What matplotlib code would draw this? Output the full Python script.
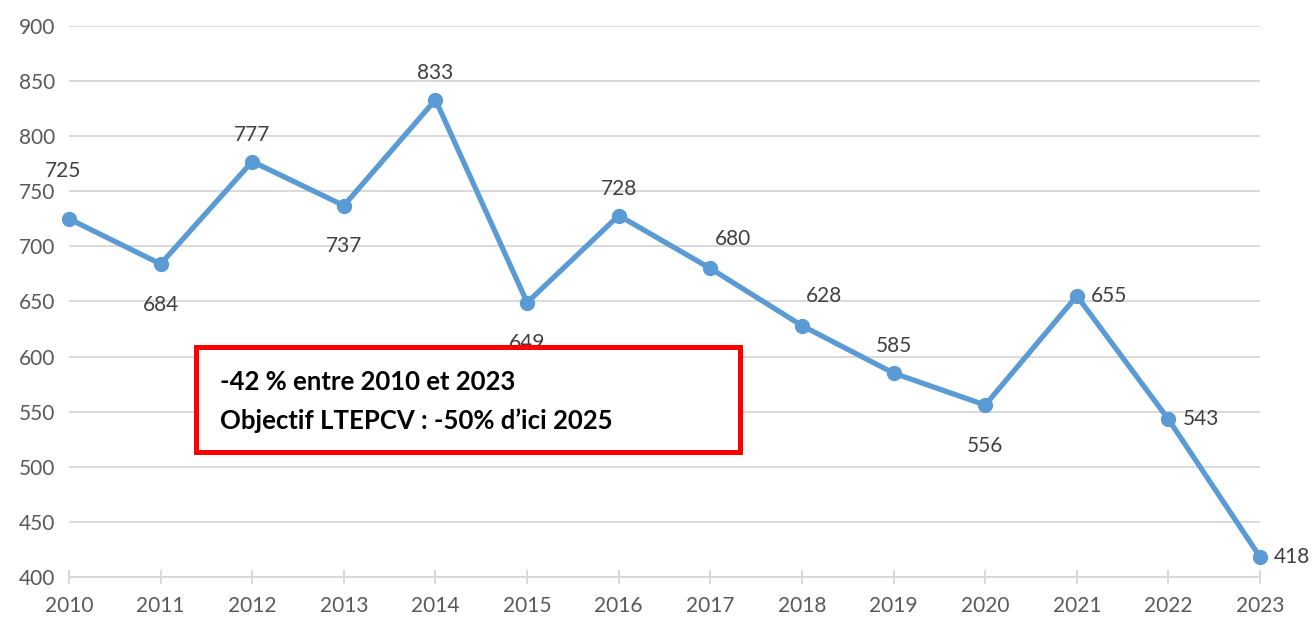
import matplotlib.pyplot as plt
from matplotlib.patches import Rectangle

years = [2010, 2011, 2012, 2013, 2014, 2015, 2016, 2017, 2018, 2019, 2020, 2021, 2022, 2023]
values = [725, 684, 777, 737, 833, 649, 728, 680, 628, 585, 556, 655, 543, 418]
# where each data label sits relative to its point
label_pos = ["upleft", "below", "above", "below", "above", "below", "above",
             "upright", "upright", "above", "below", "right", "right", "right"]
box_lines = ["-42 % entre 2010 et 2023", "Objectif LTEPCV : -50% d\u2019ici 2025"]

plt.rcParams['font.family'] = ['Lato', 'DejaVu Sans']

fig = plt.figure(figsize=(13.14, 6.21), dpi=100)
ax = fig.add_axes([0.0525, 0.0709, 0.9065, 0.8873])

ax.plot(years, values, color='#5B9BD5', lw=3.8, marker='o', markersize=10,
        solid_capstyle='round', zorder=3, clip_on=False)

offsets = {
    "above": ((0, 12), 'center', 'bottom'),
    "below": ((0, -22), 'center', 'top'),
    "upleft": ((-4, 27), 'center', 'bottom'),
    "upright": ((16, 14), 'center', 'bottom'),
    "right": ((10, 0), 'left', 'center'),
}
for x, y, p in zip(years, values, label_pos):
    off, ha, va = offsets[p]
    ax.annotate(str(y), (x, y), xytext=off, textcoords='offset points',
                ha=ha, va=va, fontsize=15, color='#404040', zorder=2,
                annotation_clip=False)

ax.set_xlim(2010, 2023)
ax.set_ylim(400, 900)
ax.set_xticks(years)
ax.set_yticks(range(400, 901, 50))
ax.grid(axis='y', color='#d9d9d9', lw=1.4)
ax.set_axisbelow(True)
for s in ['top', 'right', 'left']:
    ax.spines[s].set_visible(False)
ax.spines['bottom'].set_color('#d9d9d9')
ax.spines['bottom'].set_linewidth(1.4)
ax.tick_params(axis='y', length=0, pad=10, labelsize=15, labelcolor='#595959')
ax.tick_params(axis='x', direction='inout', length=10, width=1.4, color='#d9d9d9',
               pad=9, labelsize=15, labelcolor='#595959')

# annotation box
box = Rectangle((196 / 1314, 1 - 452 / 621), 544 / 1314, 105 / 621,
                transform=fig.transFigure, facecolor='white', edgecolor='#ff0000',
                lw=3.6, zorder=5)
fig.patches.append(box)
fig.text(220 / 1314, 1 - 382 / 621, box_lines[0], fontsize=18.5, fontweight='bold',
         va='center', ha='left', zorder=6)
fig.text(220 / 1314, 1 - 421 / 621, box_lines[1], fontsize=18.5, fontweight='bold',
         va='center', ha='left', zorder=6)

fig.savefig('out.png', dpi=100)
